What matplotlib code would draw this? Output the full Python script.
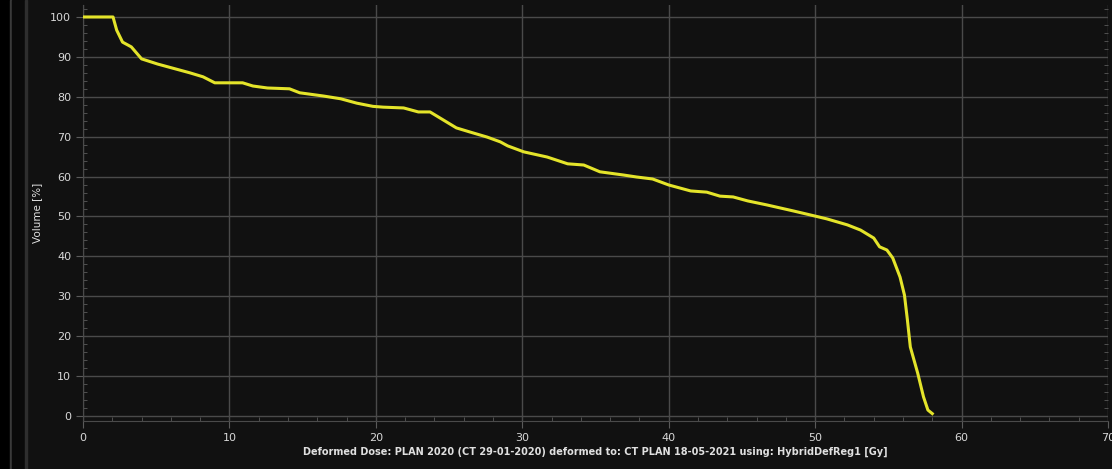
import matplotlib
matplotlib.use('Agg')
import numpy as np
import matplotlib.pyplot as plt
from matplotlib.ticker import MultipleLocator
from matplotlib.patches import Rectangle

# DVH curve (dose in Gy, volume in %)
dose = [0.0, 2.05, 2.3, 2.7, 3.3, 4.0, 5.1, 6.1, 7.3, 8.2, 9.0, 10.9, 11.6, 12.6,
        14.1, 14.8, 16.4, 17.6, 18.7, 19.8, 20.5, 21.9, 22.9, 23.7, 24.6, 25.5,
        26.4, 27.6, 28.5, 29.0, 30.1, 31.7, 33.1, 34.2, 35.3, 36.9, 37.8, 38.9,
        40.0, 41.5, 42.6, 43.5, 44.4, 45.4, 46.7, 48.5, 50.0, 50.8, 52.2, 53.1,
        54.0, 54.4, 54.9, 55.3, 55.8, 56.1, 56.3, 56.5, 57.0, 57.4, 57.7, 58.0]
volume = [100.0, 100.0, 96.7, 93.7, 92.5, 89.5, 88.2, 87.2, 86.0, 85.0, 83.5, 83.5,
          82.7, 82.2, 82.0, 81.0, 80.2, 79.5, 78.4, 77.6, 77.4, 77.2, 76.2, 76.2,
          74.2, 72.2, 71.2, 69.9, 68.7, 67.7, 66.2, 64.9, 63.2, 62.9, 61.2, 60.4,
          59.9, 59.4, 57.9, 56.4, 56.1, 55.1, 54.9, 53.9, 52.9, 51.4, 50.1, 49.4,
          47.9, 46.6, 44.6, 42.4, 41.6, 39.6, 34.8, 30.3, 24.1, 17.3, 10.8, 4.8,
          1.5, 0.6]

xlabel_txt = "Deformed Dose: PLAN 2020 (CT 29-01-2020) deformed to: CT PLAN 18-05-2021 using: HybridDefReg1 [Gy]"
ylabel_txt = "Volume [%]"

W, H = 1112, 469
fig = plt.figure(figsize=(W / 100, H / 100), dpi=100)
fig.patch.set_facecolor('#111111')

# left window chrome
fig.patches.append(Rectangle((0, 0), 10 / W, 1, transform=fig.transFigure, color='#000000', zorder=0))
fig.patches.append(Rectangle((10 / W, 0), 2 / W, 1, transform=fig.transFigure, color='#3a3a3a', zorder=0))
fig.patches.append(Rectangle((12 / W, 0), 13 / W, 1, transform=fig.transFigure, color='#0a0a0a', zorder=0))
fig.patches.append(Rectangle((25 / W, 0), 2 / W, 1, transform=fig.transFigure, color='#2e2e2e', zorder=0))

ax = fig.add_axes([83 / W, 1 - 421 / H, (1108 - 83) / W, (421 - 5) / H])
ax.set_facecolor('#111111')

ax.plot(dose, volume, color='#e4e42a', lw=2.2, zorder=3)

ax.set_xlim(0, 70)
ax.set_ylim(-1.25, 103)
ax.xaxis.set_major_locator(MultipleLocator(10))
ax.xaxis.set_minor_locator(MultipleLocator(2))
ax.yaxis.set_major_locator(MultipleLocator(10))
ax.yaxis.set_minor_locator(MultipleLocator(2))
ax.set_yticks(np.arange(0, 101, 10))

ax.grid(True, which='major', color='#4a4a4a', lw=1)
for s in ax.spines.values():
    s.set_visible(False)
ax.spines['bottom'].set_visible(True)
ax.spines['bottom'].set_color('#4a4a4a')
ax.spines['left'].set_visible(True)
ax.spines['left'].set_color('#4a4a4a')

ax.tick_params(which='major', direction='out', length=5, color='#5a5a5a',
               labelcolor='#d8d8d8', labelsize=8)
ax.tick_params(which='minor', direction='in', length=3, color='#5a5a5a',
               right=True)

ax.set_xlabel(xlabel_txt, color='#e0e0e0', fontsize=7, fontweight='bold', labelpad=3)
ax.set_ylabel(ylabel_txt, color='#e0e0e0', fontsize=7.5)
ax.yaxis.set_label_coords(-0.04, 0.5)

fig.savefig('out.png', dpi=100, facecolor=fig.get_facecolor())
